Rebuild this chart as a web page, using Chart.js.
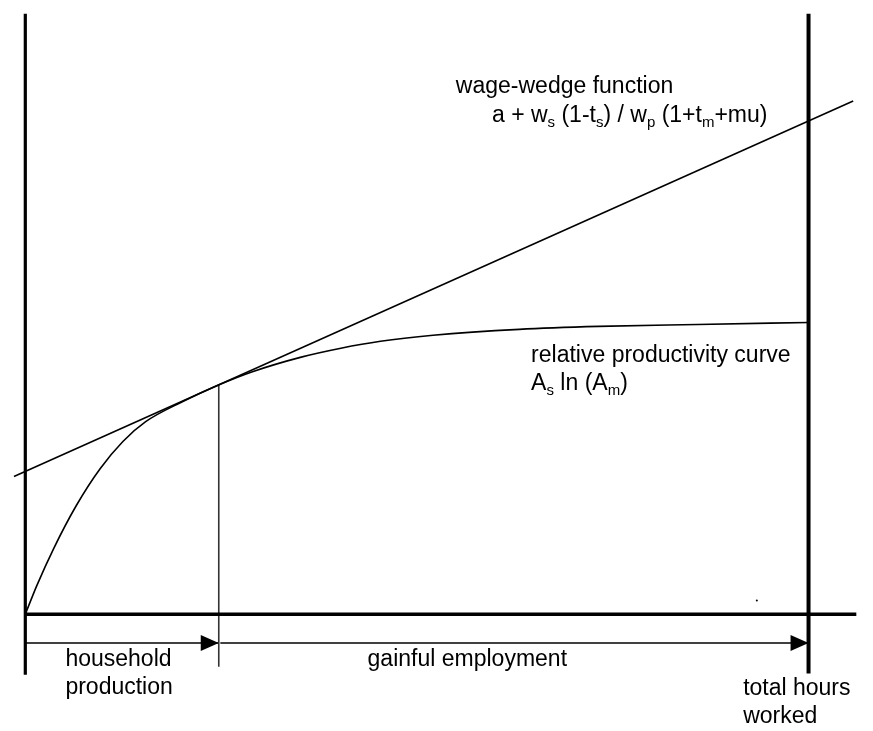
<!DOCTYPE html>
<html>
<head>
<meta charset="utf-8">
<script src="https://cdn.jsdelivr.net/npm/chart.js@4/dist/chart.umd.min.js"></script>
<style>
  html, body { margin:0; padding:0; background:#fff; }
  #wrap { width:873px; height:731px; position:relative; }
</style>
</head>
<body>
<div id="wrap"><canvas id="c"></canvas></div>
<script>
// hours axis: 0 = origin, 100 = total hours worked
const curveHours = [0, 1.455, 3.605, 6.515, 9.551, 12.46, 15.37, 20.05, 24.73, 28.91, 35.23, 40.29, 45.35, 52.06, 63.06, 73.18, 85.83, 100];
const curveValue = [0, 4.79, 11.03, 18.32, 24.52, 29.12, 32.45, 35.8, 38.67, 40.83, 43.33, 44.83, 46.0, 47.0, 48.0, 48.5, 48.83, 49.17];

const wageHours = [-1.45, 105.7];
const wageValue = [23.2, 86.5];

const splitHour = 24.7;      // household / gainful boundary
const totalHour = 100;
const axisTop = 101.2;
const axisEndX = 106.1;
const arrowLevel = -4.83;
const strayDot = [93.4, 2.33];

// labels: [segments, x, y]  segment = [text, isSubscript]
const labels = [
  [[['wage-wedge function', 0]], 54.97, 87.8],
  [[['a + w', 0], ['s', 1], [' (1-t', 0], ['s', 1], [') / w', 0], ['p', 1], [' (1+t', 0], ['m', 1], ['+mu)', 0]], 59.58, 82.9],
  [[['relative productivity curve', 0]], 64.58, 42.5],
  [[['A', 0], ['s', 1], [' ln (A', 0], ['m', 1], [')', 0]], 64.58, 37.8],
  [[['household', 0]], 5.12, -8.67],
  [[['production', 0]], 5.12, -13.5],
  [[['gainful employment', 0]], 43.7, -8.67],
  [[['total hours', 0]], 91.65, -13.67],
  [[['worked', 0]], 91.65, -18.33]
];

const FONT = '"Liberation Sans", Arial, sans-serif';

function seg(xs, ys) { return xs.map((x, i) => ({ x, y: ys[i] })); }

const overlay = {
  id: 'overlay',
  afterDatasetsDraw(chart) {
    const { ctx, scales: { x, y } } = chart;
    ctx.save();
    // arrow heads
    chart.data.datasets.forEach(ds => {
      if (!ds.arrow) return;
      const p = ds.data[ds.data.length - 1];
      const px = x.getPixelForValue(p.x), py = y.getPixelForValue(p.y);
      ctx.fillStyle = '#000';
      ctx.beginPath();
      ctx.moveTo(px, py);
      ctx.lineTo(px - 18, py - 8);
      ctx.lineTo(px - 18, py + 8);
      ctx.closePath();
      ctx.fill();
    });
    // text
    ctx.fillStyle = '#000';
    ctx.textBaseline = 'alphabetic';
    labels.forEach(([parts, lx, ly]) => {
      let px = x.getPixelForValue(lx);
      const py = y.getPixelForValue(ly);
      parts.forEach(([t, sub]) => {
        ctx.font = (sub ? '15px ' : '23px ') + FONT;
        ctx.fillText(t, px, sub ? py + 5 : py);
        px += ctx.measureText(t).width;
      });
    });
    ctx.restore();
  }
};

const lineDs = (data, w, color, extra) => Object.assign({
  data, borderColor: color || '#000', borderWidth: w, pointRadius: 0, fill: false, tension: 0
}, extra || {});

new Chart(document.getElementById('c'), {
  type: 'line',
  data: {
    datasets: [
      lineDs(seg(curveHours, curveValue), 1.6, '#000', { cubicInterpolationMode: 'monotone' }),
      lineDs(seg(wageHours, wageValue), 1.6),
      lineDs([{ x: 0, y: axisTop }, { x: 0, y: -10.2 }], 3.2),
      lineDs([{ x: totalHour, y: axisTop }, { x: totalHour, y: -10 }], 4),
      lineDs([{ x: 0, y: 0 }, { x: axisEndX, y: 0 }], 3.5),
      lineDs([{ x: splitHour, y: 38.7 }, { x: splitHour, y: -8.83 }], 1.6, '#333'),
      lineDs([{ x: 0, y: arrowLevel }, { x: splitHour, y: arrowLevel }], 1.5, '#000', { arrow: true }),
      lineDs([{ x: splitHour + 0.2, y: arrowLevel }, { x: totalHour, y: arrowLevel }], 1.5, '#000', { arrow: true }),
      lineDs([{ x: strayDot[0], y: strayDot[1] }], 0, '#000', { pointRadius: 1, pointBackgroundColor: '#000', pointBorderWidth: 0, showLine: false })
    ]
  },
  options: {
    responsive: true,
    maintainAspectRatio: false,
    animation: false,
    layout: { padding: 0 },
    plugins: { legend: { display: false }, tooltip: { enabled: false } },
    scales: {
      x: { type: 'linear', display: false, min: -2.72, max: 107.72 },
      y: { type: 'linear', display: false, min: -19, max: 102.83 }
    }
  },
  plugins: [overlay]
});
</script>
</body>
</html>
